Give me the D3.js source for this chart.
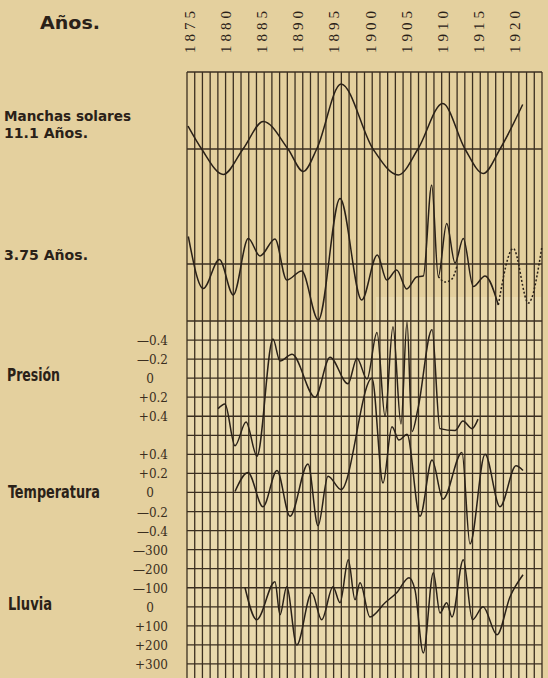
<!DOCTYPE html>
<html lang="es">
<head>
<meta charset="UTF-8">
<title>Manchas solares, presión, temperatura y lluvia</title>
<script src="https://d3js.org/d3.v7.min.js"></script>
<style>
  body { margin: 0; background: #e4d09e; }
  svg { display: block; }
  .lbl { font-family: "DejaVu Sans Condensed", "Liberation Sans Narrow", sans-serif; font-weight: bold; font-stretch: condensed; fill: #2a2118; }
  .head { font-family: "DejaVu Sans", sans-serif; font-weight: bold; fill: #2a2118; }
  .tick { font-family: "DejaVu Serif", "Liberation Serif", serif; font-size: 12px; fill: #3a2e20; }
  .year { font-family: "Liberation Serif", "DejaVu Serif", serif; font-size: 15px; fill: #2a2118; }
  .grid line { stroke: #3b2f20; stroke-width: 1.3; }
  .curve { fill: none; stroke: #2a2118; stroke-width: 1.5; }
</style>
</head>
<body>
<svg id="chart" width="548" height="678"></svg>
<script>
// year labels along the top
const yearTicks = [1875, 1880, 1885, 1890, 1895, 1900, 1905, 1910, 1915, 1920];

// sunspot cycle, 11.1 years (relative amplitude)
const sunYears  = [1874.63, 1876.40, 1879.20, 1881.76, 1884.39, 1887.59, 1889.57, 1891.31, 1894.46, 1898.60, 1901.88, 1904.43, 1907.63, 1910.52, 1912.89, 1915.06, 1918.00];
const sunValues = [0.46, 0, -0.51, 0, 0.55, 0, -0.45, 0, 1.30, 0, -0.52, 0, 0.91, 0, -0.49, 0, 0.89];

// 3.75 year wave (solid part, then dotted continuation)
const waveYears  = [1874.67, 1876.61, 1878.69, 1880.50, 1882.44, 1883.96, 1885.90, 1887.42, 1889.36, 1891.51, 1894.33, 1897.14, 1899.16, 1900.38, 1901.67, 1902.97, 1904.26, 1905.12, 1906.21, 1907.06, 1908.15, 1909.23, 1910.30, 1911.60, 1913.12, 1914.84];
const waveValues = [0.55, -0.49, 0.09, -0.62, 0.51, 0.16, 0.50, -0.32, -0.14, -1.12, 1.31, -0.72, 0.18, -0.32, -0.12, -0.50, -0.26, -0.24, 1.58, -0.25, 0.81, 0.02, 0.51, -0.45, -0.24, -0.82];
const waveDotYears  = [1914.84, 1916.78, 1918.73, 1920.46];
const waveDotValues = [-0.82, 0.31, -0.78, 0.32];
const waveAltYears  = [1907.06, 1907.93, 1908.83, 1909.48];
const waveAltValues = [-0.25, -0.36, -0.30, -0.04];

// pressure (negative up)
const presYears  = [1878.52, 1879.42, 1880.72, 1882.15, 1883.57, 1885.64, 1886.55, 1888.11, 1891.09, 1893.03, 1895.36, 1896.53, 1897.82, 1899.12, 1900.16, 1901.19, 1902.23, 1903.01, 1903.66, 1904.43, 1906.25, 1907.28, 1909.23, 1910.26, 1911.43, 1912.21];
const presValues = [0.32, 0.27, 0.71, 0.46, 0.82, -0.41, -0.18, -0.25, 0.20, -0.22, 0.06, -0.21, 0.01, -0.48, 0.40, -0.54, 0.48, -0.59, 0.56, 0.32, -0.51, 0.53, 0.55, 0.45, 0.53, 0.43];
const presTicks = [-0.4, -0.2, 0, 0.2, 0.4];
const presTickLabels = ["—0.4", "—0.2", "0", "+0.2", "+0.4"];

// temperature
const tempYears  = [1880.72, 1882.40, 1884.35, 1886.16, 1887.85, 1890.18, 1891.48, 1892.77, 1894.46, 1898.47, 1899.90, 1901.06, 1901.97, 1903.01, 1904.69, 1906.25, 1907.67, 1910.13, 1911.17, 1913.12, 1915.06, 1917.13, 1918.04];
const tempValues = [0.01, 0.21, -0.15, 0.23, -0.25, 0.30, -0.35, 0.17, 0.03, 1.20, 0.10, 0.69, 0.55, 0.61, -0.25, 0.34, -0.07, 0.42, -0.54, 0.40, -0.15, 0.28, 0.23];
const tempTicks = [0.4, 0.2, 0, -0.2, -0.4];
const tempTickLabels = ["+0.4", "+0.2", "0", "—0.2", "—0.4"];

// rain (negative up)
const rainYears  = [1882.02, 1883.53, 1885.90, 1886.55, 1887.42, 1888.72, 1890.66, 1891.95, 1893.42, 1894.33, 1895.40, 1896.27, 1896.92, 1898.21, 1900.16, 1901.67, 1903.27, 1904.04, 1905.12, 1906.42, 1907.28, 1908.15, 1908.84, 1910.30, 1911.49, 1912.86, 1914.67, 1916.36, 1918.04];
const rainValues = [-100, 68, -132, 42, -105, 200, -74, 68, -105, -21, -247, -37, -126, 53, -21, -74, -153, -89, 242, -179, 32, -21, 53, -247, 68, 0, 147, -53, -168];
const rainTicks = [-300, -200, -100, 0, 100, 200, 300];
const rainTickLabels = ["—300", "—200", "—100", "0", "+100", "+200", "+300"];

const W = 548, H = 678;
const svg = d3.select("#chart");

svg.append("rect").attr("width", W).attr("height", H).attr("fill", "#e4d09e");

// one grid column per year
const x = d3.scaleLinear().domain([1874.5, 1920.5]).range([187, 542]);
const xLabel = d3.scalePoint().domain(yearTicks).range([190, 515]);

// rows of the lower squared paper
const row = d3.scaleLinear().domain([0, 19]).range([321, 683]);

const ySun = d3.scaleLinear().domain([-1, 1]).range([199, 99]);
const yWave = d3.scaleLinear().domain([-1, 1]).range([314, 214]);
const yPres = d3.scaleLinear().domain([-0.4, 0.4]).range([row(1), row(5)]);
const yTemp = d3.scaleLinear().domain([0.4, -0.4]).range([row(7), row(11)]);
const yRain = d3.scaleLinear().domain([-300, 300]).range([row(12), row(18)]);

// lower paper tint (with the pasted strip on the right)
svg.append("rect")
    .attr("x", x(1874.5)).attr("y", row(0))
    .attr("width", x(1920.5) - x(1874.5)).attr("height", H - row(0))
    .attr("fill", "#e9d9ad");
svg.append("rect")
    .attr("x", x(1899.0)).attr("y", 297)
    .attr("width", x(1920.5) - x(1899.0)).attr("height", row(0) - 297)
    .attr("fill", "#e9d9ad");

const grid = svg.append("g").attr("class", "grid");
const cols = d3.range(1874.5, 1921, 1);

grid.selectAll(".v").data(cols).enter().append("line")
    .attr("x1", d => x(d)).attr("x2", d => x(d))
    .attr("y1", 72).attr("y2", H);

const upperRows = [72, ySun(0), yWave(0)];
grid.selectAll(".hu").data(upperRows).enter().append("line")
    .attr("x1", x(1874.5)).attr("x2", x(1920.5))
    .attr("y1", d => d).attr("y2", d => d);

grid.selectAll(".hl").data(d3.range(0, 19)).enter().append("line")
    .attr("x1", x(1874.5)).attr("x2", x(1920.5))
    .attr("y1", d => row(d)).attr("y2", d => row(d));

function drawCurve(years, values, yScale, dashed) {
    const pts = years.map((yr, i) => [x(yr), yScale(values[i])]);
    const line = d3.line().curve(d3.curveMonotoneX);
    svg.append("path")
        .attr("class", "curve")
        .attr("d", line(pts))
        .attr("stroke-dasharray", dashed ? "2,2" : null);
}

drawCurve(sunYears, sunValues, ySun, false);
drawCurve(waveYears, waveValues, yWave, false);
drawCurve(waveDotYears, waveDotValues, yWave, true);
drawCurve(waveAltYears, waveAltValues, yWave, true);
drawCurve(presYears, presValues, yPres, false);
drawCurve(tempYears, tempValues, yTemp, false);
drawCurve(rainYears, rainValues, yRain, false);

// year labels (rotated)
svg.selectAll(".year").data(yearTicks).enter().append("text")
    .attr("class", "year")
    .attr("transform", d => `translate(${xLabel(d)},32) rotate(-90)`)
    .attr("text-anchor", "middle")
    .attr("dominant-baseline", "central")
    .attr("textLength", 42)
    .attr("lengthAdjust", "spacing")
    .text(d => d);

svg.append("text").attr("class", "head")
    .attr("x", 40).attr("y", 29)
    .attr("font-size", 17)
    .attr("textLength", 60).attr("lengthAdjust", "spacingAndGlyphs")
    .text("Años.");

const labels = [
    { t: "Manchas solares", x: 4, y: 121, w: 127, s: 14 },
    { t: "11.1 Años.", x: 4, y: 138, w: 84, s: 14 },
    { t: "3.75 Años.", x: 4, y: 260, w: 84, s: 14 },
    { t: "Presión", x: 7, y: 381, w: 53, s: 17 },
    { t: "Temperatura", x: 8, y: 498, w: 92, s: 17 },
    { t: "Lluvia", x: 8, y: 610, w: 44, s: 17 }
];
svg.selectAll(".lbl").data(labels).enter().append("text")
    .attr("class", "lbl")
    .attr("x", d => d.x).attr("y", d => d.y)
    .attr("font-size", d => d.s)
    .attr("textLength", d => d.w).attr("lengthAdjust", "spacingAndGlyphs")
    .text(d => d.t);

function drawTicks(ticks, names, yScale) {
    svg.selectAll(null).data(ticks).enter().append("text")
        .attr("class", "tick")
        .attr("x", d => d === 0 ? 150 : 168)
        .attr("y", d => yScale(d) + 1)
        .attr("text-anchor", d => d === 0 ? "middle" : "end")
        .attr("dominant-baseline", "central")
        .text((d, i) => names[i]);
}
drawTicks(presTicks, presTickLabels, yPres);
drawTicks(tempTicks, tempTickLabels, yTemp);
drawTicks(rainTicks, rainTickLabels, yRain);
</script>
</body>
</html>
